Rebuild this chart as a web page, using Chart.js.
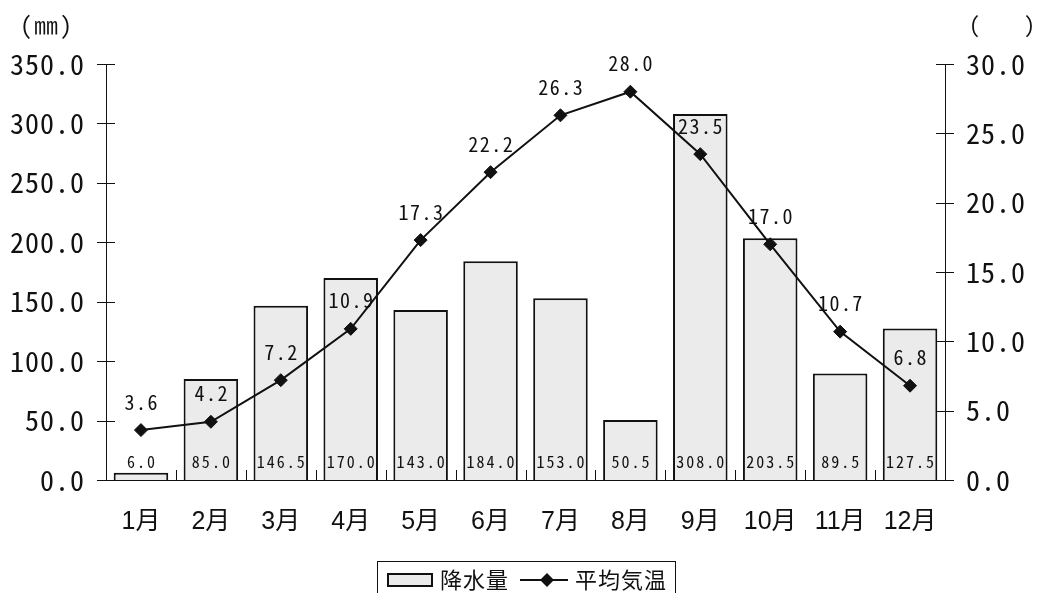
<!DOCTYPE html>
<html>
<head>
<meta charset="utf-8">
<script src="https://cdn.jsdelivr.net/npm/chart.js@4"></script>
<style>
  html, body { margin: 0; padding: 0; background: #ffffff; }
  #wrap { width: 1037px; height: 593px; }
</style>
</head>
<body>
<div id="wrap"><canvas id="c" width="1037" height="593"></canvas></div>
<script>
// 月別の降水量と平均気温
const months = ['1月', '2月', '3月', '4月', '5月', '6月', '7月', '8月', '9月', '10月', '11月', '12月'];
const rainfall = [6.0, 85.0, 146.5, 170.0, 143.0, 184.0, 153.0, 50.5, 308.0, 203.5, 89.5, 127.5];
const meanTemp = [3.6, 4.2, 7.2, 10.9, 17.3, 22.2, 26.3, 28.0, 23.5, 17.0, 10.7, 6.8];
const rainLabel = '降水量';
const tempLabel = '平均気温';
const rainUnit = '(㎜)';
const tempUnit = '(　　)';

// 数字は等幅ゴシック、月名は欧文＋和文
const MONO = '"Noto Sans Mono CJK JP", "Noto Sans CJK JP", "DejaVu Sans Mono", monospace';
const JP_FONT = '"Liberation Sans", "Noto Sans CJK JP", sans-serif';
const INK = '#111111';
const BAR_FILL = '#ebebeb';

// 目盛り数値の字間（軸の描画中だけ有効）
const spacing = {
  id: 'spacing',
  beforeDraw(chart) { chart.ctx.letterSpacing = '1px'; },
  beforeDatasetsDraw(chart) { chart.ctx.letterSpacing = '0px'; }
};

// 軸の目盛り線（軸をまたぐ短い線）と項目区切り
const axisMarks = {
  id: 'axisMarks',
  afterDraw(chart) {
    const ctx = chart.ctx;
    const area = chart.chartArea;
    ctx.save();
    ctx.strokeStyle = INK;
    ctx.lineWidth = 1;
    ['y', 'y1'].forEach(id => {
      const s = chart.scales[id];
      const x = id === 'y' ? area.left : area.right;
      s.ticks.forEach(t => {
        const py = Math.round(s.getPixelForValue(t.value)) + 0.5;
        ctx.beginPath();
        ctx.moveTo(x - 9, py);
        ctx.lineTo(x + 9, py);
        ctx.stroke();
      });
    });
    const step = (area.right - area.left) / months.length;
    for (let i = 1; i < months.length; i++) {
      const px = Math.round(area.left + step * i) + 0.5;
      ctx.beginPath();
      ctx.moveTo(px, area.bottom);
      ctx.lineTo(px, area.bottom - 10);
      ctx.stroke();
    }
    ctx.restore();
  }
};

// 数値ラベル：棒は下端付近、折れ線は点の上
const valueLabels = {
  id: 'valueLabels',
  afterDatasetsDraw(chart) {
    const ctx = chart.ctx;
    ctx.save();
    ctx.fillStyle = INK;
    ctx.textAlign = 'center';
    ctx.textBaseline = 'middle';
    const zeroY = chart.scales.y.getPixelForValue(0);
    chart.data.datasets.forEach((ds, di) => {
      const meta = chart.getDatasetMeta(di);
      meta.data.forEach((el, i) => {
        const v = ds.data[i].toFixed(1);
        if (ds.type === 'bar') {
          ctx.font = '16px ' + MONO;
          ctx.letterSpacing = '2px';
          ctx.fillText(v, el.x + 1, zeroY - 18);
        } else {
          ctx.font = '20px ' + MONO;
          ctx.letterSpacing = '1.5px';
          ctx.fillText(v, el.x + 0.75, el.y - 28);
        }
      });
    });
    ctx.restore();
  }
};

// 単位と凡例
const frameText = {
  id: 'frameText',
  afterDraw(chart) {
    const ctx = chart.ctx;
    ctx.save();
    ctx.fillStyle = INK;
    ctx.textBaseline = 'middle';
    ctx.letterSpacing = '2px';
    ctx.font = '24px ' + MONO;
    ctx.textAlign = 'left';
    ctx.fillText(rainUnit, 20, 25);
    ctx.font = '22px ' + MONO;
    ctx.letterSpacing = '0px';
    ctx.textAlign = 'right';
    ctx.fillText(tempUnit, 1035, 25);

    // 凡例の枠
    ctx.strokeStyle = INK;
    ctx.lineWidth = 1;
    ctx.strokeRect(377.5, 561.5, 298, 60);
    // 棒の見本
    ctx.fillStyle = BAR_FILL;
    ctx.fillRect(387, 573, 46, 14);
    ctx.lineWidth = 2;
    ctx.strokeRect(388, 574, 44, 12);
    ctx.fillStyle = INK;
    ctx.textAlign = 'left';
    ctx.font = '22px ' + MONO;
    ctx.letterSpacing = '1px';
    ctx.fillText(rainLabel, 440, 580);
    // 折れ線の見本
    ctx.lineWidth = 2;
    ctx.beginPath();
    ctx.moveTo(520, 580);
    ctx.lineTo(568, 580);
    ctx.stroke();
    ctx.beginPath();
    ctx.moveTo(547, 573);
    ctx.lineTo(554, 580);
    ctx.lineTo(547, 587);
    ctx.lineTo(540, 580);
    ctx.closePath();
    ctx.fill();
    ctx.fillText(tempLabel, 575, 580);
    ctx.restore();
    ctx.letterSpacing = '0px';
  }
};

new Chart(document.getElementById('c'), {
  data: {
    labels: months,
    datasets: [
      {
        type: 'line',
        label: tempLabel,
        data: meanTemp,
        yAxisID: 'y1',
        order: 1,
        borderColor: INK,
        borderWidth: 2,
        pointStyle: 'rectRot',
        pointRadius: 6.5,
        pointBackgroundColor: INK,
        pointBorderColor: INK,
        pointBorderWidth: 1,
        tension: 0,
        fill: false
      },
      {
        type: 'bar',
        label: rainLabel,
        data: rainfall,
        yAxisID: 'y',
        order: 2,
        backgroundColor: BAR_FILL,
        borderColor: INK,
        borderWidth: 2,
        categoryPercentage: 1.0,
        barPercentage: 0.78
      }
    ]
  },
  options: {
    responsive: false,
    animation: false,
    devicePixelRatio: 1,
    layout: { padding: { top: 64, left: 0, right: 0, bottom: 0 } },
    plugins: {
      legend: { display: false },
      tooltip: { enabled: false },
      title: { display: false }
    },
    scales: {
      x: {
        offset: true,
        grid: { display: false, drawTicks: false },
        border: { display: true, color: INK, width: 1 },
        ticks: {
          z: 1,
          color: INK,
          font: { family: JP_FONT, size: 25 },
          padding: 27,
          maxRotation: 0,
          autoSkip: false
        },
        afterFit(s) { s.height = 113; }
      },
      y: {
        position: 'left',
        min: 0,
        max: 350,
        grid: { display: false, drawTicks: false },
        border: { display: true, color: INK, width: 1 },
        ticks: {
          stepSize: 50,
          color: INK,
          padding: 21,
          font: { family: MONO, size: 28 },
          callback: v => Number(v).toFixed(1)
        },
        afterFit(s) { s.width = 106; }
      },
      y1: {
        position: 'right',
        min: 0,
        max: 30,
        grid: { display: false, drawTicks: false },
        border: { display: true, color: INK, width: 1 },
        ticks: {
          stepSize: 5,
          color: INK,
          padding: 21,
          font: { family: MONO, size: 28 },
          callback: v => Number(v).toFixed(1)
        },
        afterFit(s) { s.width = 92; }
      }
    }
  },
  plugins: [spacing, axisMarks, valueLabels, frameText]
});
</script>
</body>
</html>
